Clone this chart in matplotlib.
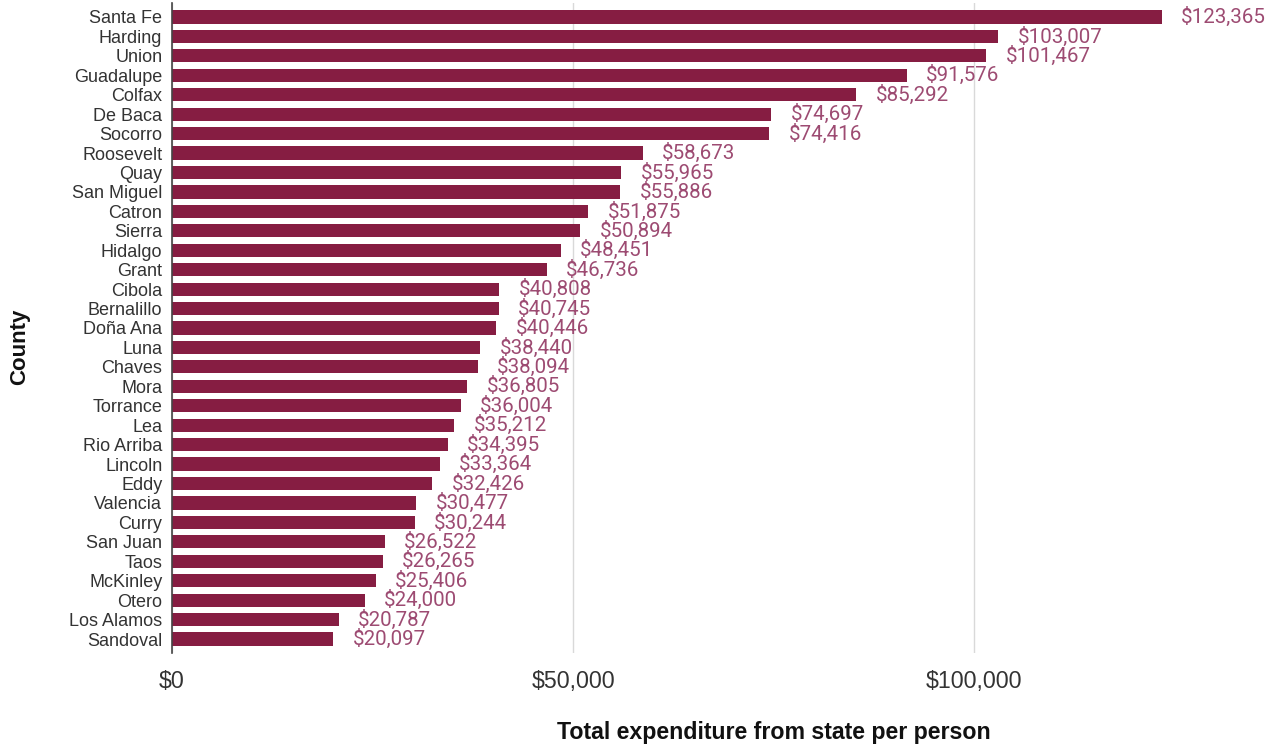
import matplotlib
matplotlib.use("Agg")
import matplotlib.pyplot as plt
from matplotlib.ticker import FuncFormatter

counties = ["Santa Fe", "Harding", "Union", "Guadalupe", "Colfax", "De Baca", "Socorro",
            "Roosevelt", "Quay", "San Miguel", "Catron", "Sierra", "Hidalgo", "Grant",
            "Cibola", "Bernalillo", "Doña Ana", "Luna", "Chaves", "Mora", "Torrance", "Lea",
            "Rio Arriba", "Lincoln", "Eddy", "Valencia", "Curry", "San Juan", "Taos",
            "McKinley", "Otero", "Los Alamos", "Sandoval"]
spending = [123365, 103007, 101467, 91576, 85292, 74697, 74416,
            58673, 55965, 55886, 51875, 50894, 48451, 46736,
            40808, 40745, 40446, 38440, 38094, 36805, 36004, 35212,
            34395, 33364, 32426, 30477, 30244, 26522, 26265,
            25406, 24000, 20787, 20097]
x_ticks = [0, 50000, 100000]

bar_color = "#861d42"
label_color = "#9d4b72"

fig = plt.figure(figsize=(12.7, 7.49), dpi=100)
ax = fig.add_axes([172 / 1270, 1 - 653 / 749, 1091 / 1270, 650 / 749])

pos = list(range(len(counties)))
ax.barh(pos, spending, height=0.68, color=bar_color, zorder=3)

ax.set_xlim(0, 136000)
ax.set_ylim(len(counties) - 0.28, -0.72)

ax.set_yticks(pos)
ax.set_yticklabels(counties, fontfamily="Liberation Sans", fontsize=13, color="#333333")
ax.set_xticks(x_ticks)
ax.xaxis.set_major_formatter(FuncFormatter(lambda v, _: f"${v:,.0f}"))
for lbl in ax.get_xticklabels():
    lbl.set_fontfamily("Liberation Sans")
    lbl.set_fontsize(16.7)
    lbl.set_color("#333333")
ax.tick_params(axis="both", length=0)
ax.tick_params(axis="y", pad=7)
ax.tick_params(axis="x", pad=12)

ax.grid(axis="x", color="#d9d9d9", linewidth=1, zorder=0)
for side in ["top", "right", "bottom"]:
    ax.spines[side].set_visible(False)
ax.spines["left"].set_color("#444444")
ax.spines["left"].set_linewidth(1.2)
ax.spines["left"].set_zorder(4)

for y, v in zip(pos, spending):
    ax.annotate(f"${v:,}", xy=(v, y), xytext=(14, 0), textcoords="offset points",
                va="center", ha="left", fontsize=14.8, fontfamily="Roboto",
                color=label_color)

fig.text((555 + 992) / 2 / 1270, 1 - 733 / 749, "Total expenditure from state per person",
         ha="center", va="center", fontsize=16.7, fontweight="bold",
         fontfamily="Liberation Sans", color="#111111")
fig.text(20 / 1270, 1 - 347 / 749, "County", rotation=90, ha="center", va="center",
         fontsize=16, fontweight="bold", fontfamily="Liberation Sans", color="#111111")

fig.savefig("out.png", dpi=100, facecolor="white")
